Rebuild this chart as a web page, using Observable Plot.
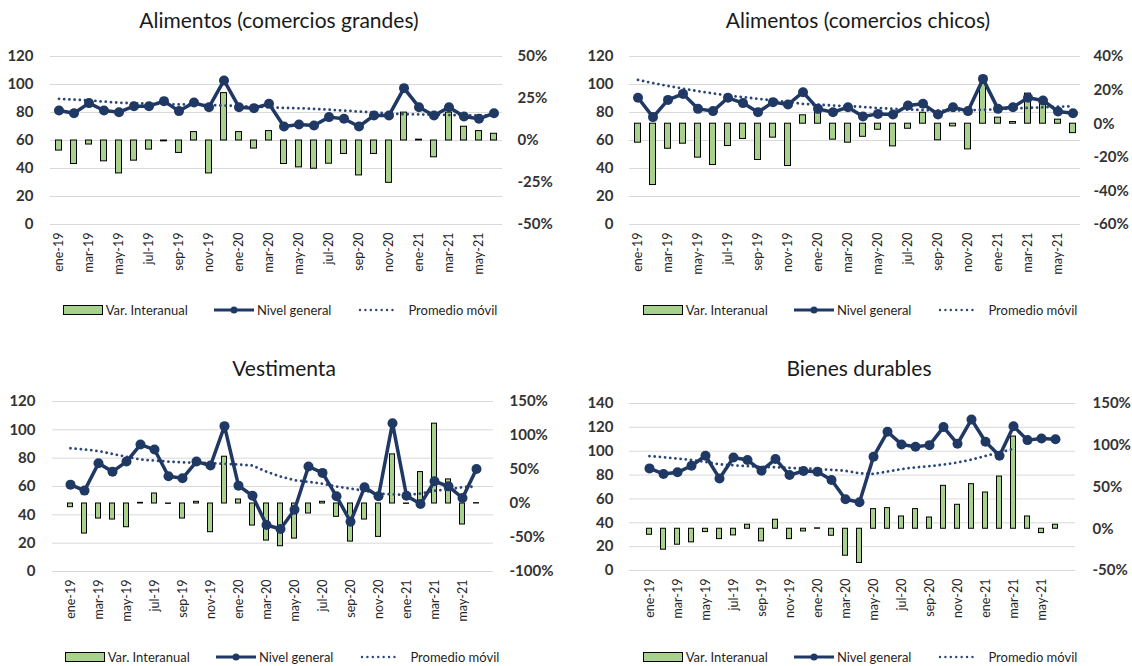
<!DOCTYPE html>
<html><head><meta charset="utf-8">
<script src="https://cdn.jsdelivr.net/npm/d3@7"></script>
<script src="https://cdn.jsdelivr.net/npm/@observablehq/plot@0.6"></script>
<style>
body{margin:0;background:#fff;font-family:Lato,"Open Sans",sans-serif;}
#root{position:relative;width:1132px;height:666px;overflow:hidden;background:#fff;}
.title{position:absolute;text-align:center;font-size:21px;line-height:24px;color:#1a1a1a;width:600px;}
.panel{position:absolute;}
.panel svg{overflow:visible;}
.legend{position:absolute;display:flex;justify-content:center;align-items:center;gap:26px;font-size:13px;color:#1f1f1f;width:600px;height:18px;}
.item{display:flex;align-items:center;gap:3px;}
</style></head><body><div id="root"></div>
<script>
const months = ["ene-19","feb-19","mar-19","abr-19","may-19","jun-19","jul-19","ago-19","sep-19","oct-19","nov-19","dic-19",
  "ene-20","feb-20","mar-20","abr-20","may-20","jun-20","jul-20","ago-20","sep-20","oct-20","nov-20","dic-20",
  "ene-21","feb-21","mar-21","abr-21","may-21","jun-21"];
const tickMonths = ["ene-19","mar-19","may-19","jul-19","sep-19","nov-19","ene-20","mar-20","may-20","jul-20","sep-20","nov-20","ene-21","mar-21","may-21"];
const legendLabels = ["Var. Interanual","Nivel general","Promedio móvil"];

// Alimentos (comercios grandes)
const nivelGrandes = [81.4,79.5,86.7,81.4,80.2,84.5,84.5,88.1,81,87.1,83.8,102.9,83.8,83.1,86.2,70,71.4,70.7,76.7,75.5,70,77.9,77.9,97.4,83.8,77.9,83.8,77.1,75.5,79.5];
const varGrandes = [-6,-14,-2.4,-12.4,-19.6,-12,-5.4,-0.5,-7.4,5,-19.6,28.2,5,-4.8,5.6,-14,-16,-16.8,-13.8,-8,-20.8,-8,-25.2,16.6,0.5,-10,16.6,8.2,5.6,4];
const promGrandes = [89.8,89.2,88.6,87.8,87,86.6,86.3,86,85.8,85.6,85.3,85,84.6,84.2,83.8,83.3,83,82.6,82,81.4,80.7,80,79.3,78.8,78.6,78.4,78.2,78,78,78];

// Alimentos (comercios chicos)
const nivelChicos = [90.5,76.7,89,93.3,82.6,81,90.5,86.7,80.2,87.4,85.7,94.5,82.6,80.2,83.8,77.1,79,78.6,85,86.2,78.6,83.8,81,104,82.6,83.8,90.5,88.6,80.7,79.5];
const varChicos = [-11.3,-36.5,-14.9,-11.9,-20.2,-24.6,-13.3,-9.1,-21.6,-8.3,-25.2,5,6.3,-9.5,-11.3,-7.8,-3.6,-13.5,-3,6.5,-9.9,-1.6,-15.3,23.8,3.6,1,17.9,11.9,2.4,-5.6];
const promChicos = [103.3,101,99,97,95.3,93.6,92.1,91,89.8,88.6,87.4,86.2,85.6,85,84.5,84,83.2,82.6,82.1,81.7,81.4,81.4,81.6,81.9,82.3,82.8,83.3,83.7,84.1,84.5];

// Vestimenta
const nivelVest = [61.3,57.1,76.4,70.5,77.6,89.6,86.1,67.2,65.8,77.6,74.8,102.6,60.6,53.5,32.8,30,43.6,74.1,69.6,53.1,35.1,59.4,53.1,104.7,53.5,47.6,63.7,60.1,51.9,72.4];
const varVest = [-5.4,-44.2,-22.1,-23.6,-34.9,1,14.7,-0.5,-22.1,2.5,-42.2,68.8,5.9,-32.4,-54.5,-62.9,-51.6,-14.7,2.5,-19.6,-56,-23.6,-49.1,72.2,-0.5,46.2,117.4,35.4,-30.9,0.5];
const promVest = [87,86.2,85,83,81,79,78.3,77.6,77,76.8,76.5,76,75.5,74.8,70.5,67,64.5,63.3,62,60,58.5,57,55,54.5,54,55,57,58,59.5,60];

// Bienes durables
const nivelDur = [85.6,80.9,82.3,87.8,96.2,77.2,94.8,92.6,83.7,93.4,80,83.4,82.8,75.9,59.7,57.2,95.4,116.3,105.7,103.7,105.1,120.2,106.2,126.6,107.9,96.2,121,109.3,110.7,110.1];
const varDur = [-7.2,-25.1,-19.1,-16.3,-4,-12.4,-8,4.8,-15.1,10.8,-12.4,-3.2,0.5,-8.4,-32.3,-41,23.5,24.7,14.7,23.5,13.5,51.4,28.7,53.4,43.4,62.5,110.4,14.7,-5.2,4.8];
const promDur = [95.9,95,93.8,92.6,91,89,88.2,87.5,87,86.5,86,85.6,85,84.4,83.6,81.5,81,83,85,86.5,87.5,88.8,90.5,93,96,99,102,null,null,null];

const GREEN = "#a9d18e", NAVY = "#1f3864", NAVY2 = "#2a4679";

const panels = [
  {title:"Alimentos (comercios grandes)", left:0, top:40, mL:50, mR:64, mT:16, plotH:168, mB:80, yMax:120, leftTicks:[0,20,40,60,80,100,120], zero:60, k:1.2, pctTicks:[-50,-25,0,25,50], padL:17, padR:15, titleX:279, titleY:8, legX:280, legY:301, nivel:nivelGrandes, varia:varGrandes, prom:promGrandes},
  {title:"Alimentos (comercios chicos)", left:566, top:40, mL:63, mR:52, mT:16, plotH:168, mB:80, yMax:120, leftTicks:[0,20,40,60,80,100,120], zero:72, k:1.2, pctTicks:[-60,-40,-20,0,20,40], padL:16, padR:13, titleX:858, titleY:8, legX:860, legY:301, nivel:nivelChicos, varia:varChicos, prom:promChicos},
  {title:"Vestimenta", left:0, top:385, mL:52, mR:73, mT:16, plotH:170, mB:60, yMax:120, leftTicks:[0,20,40,60,80,100,120], zero:48, k:0.48, pctTicks:[-100,-50,0,50,100,150], padL:17, padR:16, titleX:284, titleY:356, legX:282, legY:648, nivel:nivelVest, varia:varVest, prom:promVest},
  {title:"Bienes durables", left:566, top:385, mL:63, mR:57, mT:18, plotH:167, mB:60, yMax:140, leftTicks:[0,20,40,60,80,100,120,140], zero:35, k:0.7, pctTicks:[-50,0,50,100,150], padL:16, padR:17, titleX:859, titleY:356, legX:860, legY:648, nivel:nivelDur, varia:varDur, prom:promDur}
];

const root = document.getElementById("root");

for (const p of panels) {
  const data = months.map((m, i) => ({m, nivel: p.nivel[i], varia: p.varia[i], prom: p.prom[i]}));
  const toIdx = v => p.zero + p.k * v;
  const chart = Plot.plot({
    width: 566,
    height: p.mT + p.plotH + p.mB,
    marginLeft: p.mL, marginRight: p.mR, marginTop: p.mT, marginBottom: p.mB,
    style: {fontFamily: "Lato, 'Open Sans', sans-serif", background: "transparent", color: "#333"},
    x: {type: "band", domain: months, padding: 0},
    y: {domain: [0, p.yMax]},
    marks: [
      Plot.gridY({ticks: p.leftTicks, stroke: "#d9d9d9", strokeOpacity: 1, strokeWidth: 1}),
      Plot.axisY({ticks: p.leftTicks, anchor: "left", tickSize: 0, tickPadding: p.padL, fontSize: 15, fontWeight: "bold", fill: "#333", label: null}),
      Plot.axisY({ticks: p.pctTicks.map(toIdx), anchor: "right", tickSize: 0, tickPadding: p.padR, fontSize: 15, fontWeight: "bold", fill: "#333", label: null,
        tickFormat: d => Math.round((d - p.zero) / p.k) + "%"}),
      Plot.axisX({ticks: tickMonths, anchor: "bottom", tickSize: 0, tickPadding: 8, tickRotate: -90, fontSize: 12.5, fill: "#262626", label: null}),
      Plot.barY(data, {x: "m", y1: p.zero, y2: d => toIdx(d.varia), fill: GREEN, stroke: "#000", strokeWidth: 1, insetLeft: 4.5, insetRight: 4.5}),
      Plot.line(data, {x: "m", y: "prom", stroke: NAVY2, strokeWidth: 2.8, strokeDasharray: "0.01,5.2", strokeLinecap: "round"}),
      Plot.line(data, {x: "m", y: "nivel", stroke: NAVY, strokeWidth: 3.5}),
      Plot.dot(data, {x: "m", y: "nivel", r: 5, fill: NAVY, stroke: "none"})
    ]
  });
  const wrap = document.createElement("div");
  wrap.className = "panel";
  wrap.style.left = p.left + "px";
  wrap.style.top = p.top + "px";
  wrap.appendChild(chart);
  root.appendChild(wrap);

  const t = document.createElement("div");
  t.className = "title";
  t.textContent = p.title;
  t.style.left = (p.titleX - 300) + "px";
  t.style.top = p.titleY + "px";
  root.appendChild(t);

  const leg = document.createElement("div");
  leg.className = "legend";
  leg.style.left = (p.legX - 300) + "px";
  leg.style.top = p.legY + "px";
  const sw = [
    `<svg width="40" height="12"><rect x="0.5" y="1.5" width="39" height="9" fill="${GREEN}" stroke="#000" stroke-width="1"/></svg>`,
    `<svg width="40" height="12"><line x1="0" y1="6" x2="40" y2="6" stroke="${NAVY}" stroke-width="3"/><circle cx="20" cy="6" r="3.5" fill="${NAVY}"/></svg>`,
    `<svg width="48" height="12"><line x1="3" y1="6" x2="36" y2="6" stroke="${NAVY2}" stroke-width="2.4" stroke-linecap="round" stroke-dasharray="0.01,5.4"/></svg>`
  ];
  leg.innerHTML = legendLabels.map((l, i) => `<div class="item">${sw[i]}<span>${l}</span></div>`).join("");
  root.appendChild(leg);
}
</script></body></html>
